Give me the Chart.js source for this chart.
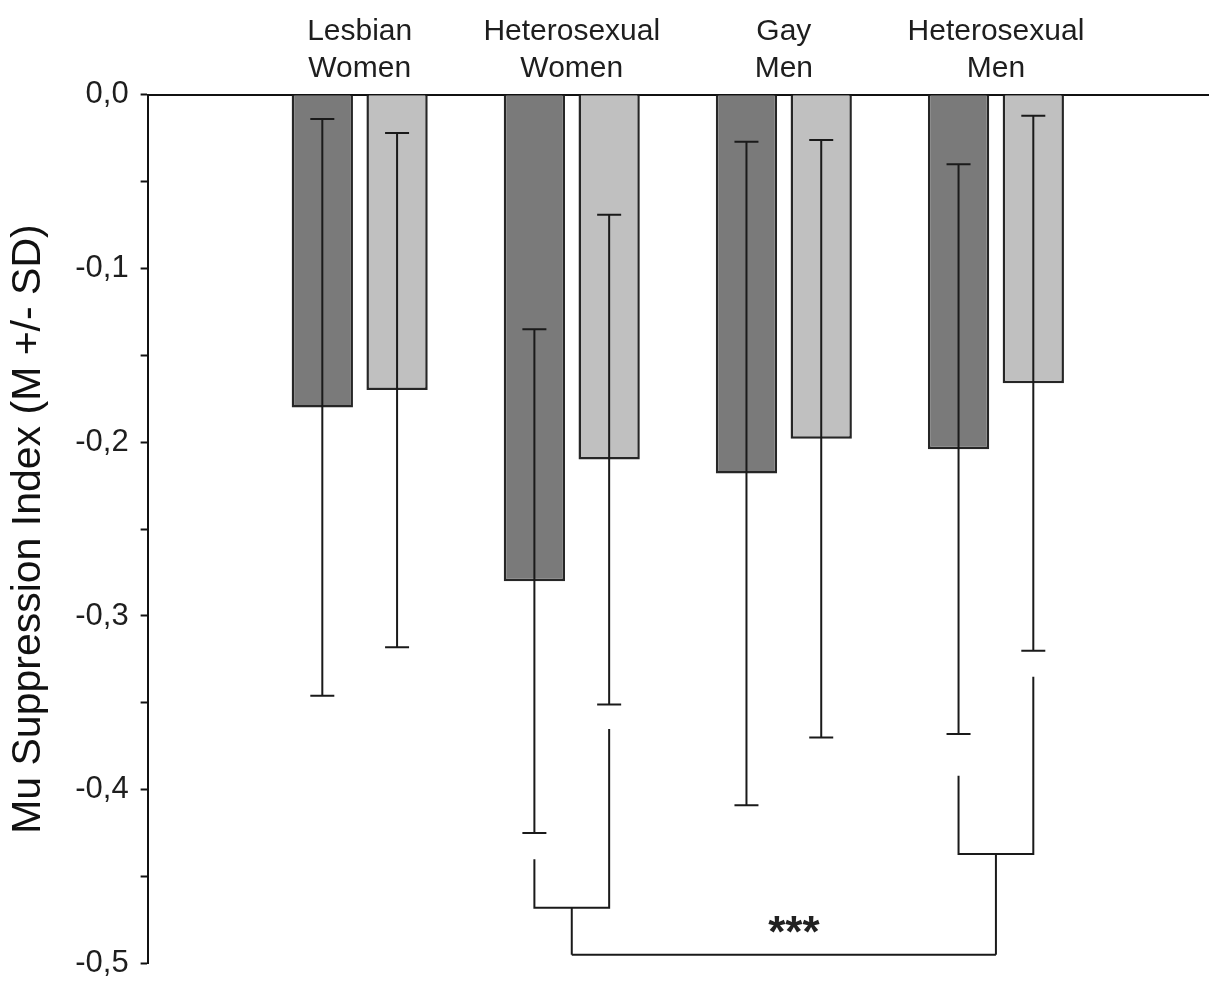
<!DOCTYPE html>
<html>
<head>
<meta charset="utf-8">
<script src="https://cdn.jsdelivr.net/npm/chart.js@4"></script>
<style>
  html, body { margin: 0; padding: 0; background: #fff; overflow: hidden; }
  #wrap { width: 1221px; height: 994px; position: relative; }
</style>
</head>
<body>
<div id="wrap"><canvas id="muChart"></canvas></div>
<script>
// grupos (etiquetas de arriba, en dos líneas)
const groupLabels = [['Lesbian', 'Women'], ['Heterosexual', 'Women'], ['Gay', 'Men'], ['Heterosexual', 'Men']];

// medias y desviaciones
const darkMeans = [-0.180, -0.280, -0.218, -0.204];
const darkSD = [0.166, 0.145, 0.191, 0.164];
const lightMeans = [-0.170, -0.210, -0.198, -0.166];
const lightSD = [0.148, 0.141, 0.172, 0.154];

// ticks del eje Y
const yTicks = [0, -0.1, -0.2, -0.3, -0.4, -0.5];

// corchetes de significación (índice de categoría, extremos en valores del eje Y)
const bracketGroups = [2, 4];
const bracketLeftTop = [-0.440, -0.392];
const bracketRightTop = [-0.365, -0.335];
const bracketLevel = [-0.468, -0.437];
const joinLevel = -0.495;
const sigLabel = '***';
const sigLevel = -0.478;

// categoría vacía al principio y al final para dejar el hueco de la izquierda
const labels = [''].concat(groupLabels, ['']);
const pad = arr => [null].concat(arr, [null]);

const errorBars = {
    id: 'errorBars',
    afterDatasetsDraw(chart) {
        const ctx = chart.ctx;
        const y = chart.scales.y;
        const sets = [[darkMeans, darkSD], [lightMeans, lightSD]];
        ctx.save();
        ctx.strokeStyle = '#1a1a1a';
        ctx.lineWidth = 2;
        sets.forEach((s, di) => {
            const meta = chart.getDatasetMeta(di);
            s[0].forEach((m, i) => {
                const bar = meta.data[i + 1];
                const top = y.getPixelForValue(m + s[1][i]);
                const bot = y.getPixelForValue(m - s[1][i]);
                ctx.beginPath();
                ctx.moveTo(bar.x, top); ctx.lineTo(bar.x, bot);
                ctx.moveTo(bar.x - 12, top); ctx.lineTo(bar.x + 12, top);
                ctx.moveTo(bar.x - 12, bot); ctx.lineTo(bar.x + 12, bot);
                ctx.stroke();
            });
        });

        // corchetes
        const mids = [];
        bracketGroups.forEach((g, k) => {
            const xl = chart.getDatasetMeta(0).data[g].x;
            const xr = chart.getDatasetMeta(1).data[g].x;
            const lvl = y.getPixelForValue(bracketLevel[k]);
            ctx.beginPath();
            ctx.moveTo(xl, y.getPixelForValue(bracketLeftTop[k]));
            ctx.lineTo(xl, lvl);
            ctx.lineTo(xr, lvl);
            ctx.lineTo(xr, y.getPixelForValue(bracketRightTop[k]));
            ctx.stroke();
            const xm = (xl + xr) / 2;
            mids.push(xm);
            ctx.beginPath();
            ctx.moveTo(xm, lvl);
            ctx.lineTo(xm, y.getPixelForValue(joinLevel));
            ctx.stroke();
        });
        const jy = y.getPixelForValue(joinLevel);
        ctx.beginPath();
        ctx.moveTo(mids[0], jy);
        ctx.lineTo(mids[1], jy);
        ctx.stroke();

        ctx.fillStyle = '#222';
        ctx.font = 'bold 44px "Liberation Sans", Arial, sans-serif';
        ctx.textAlign = 'center';
        ctx.textBaseline = 'middle';
        ctx.fillText(sigLabel, (mids[0] + mids[1]) / 2 + 10, y.getPixelForValue(sigLevel) + 10);
        ctx.restore();
    }
};

const ctx = document.getElementById('muChart').getContext('2d');
new Chart(ctx, {
    type: 'bar',
    data: {
        labels: labels,
        datasets: [{
            data: pad(darkMeans),
            backgroundColor: '#7a7a7a',
            borderColor: '#262626',
            borderWidth: 2.5
        }, {
            data: pad(lightMeans),
            backgroundColor: '#c0c0c0',
            borderColor: '#262626',
            borderWidth: 2.5
        }]
    },
    options: {
        responsive: true,
        maintainAspectRatio: false,
        animation: false,
        categoryPercentage: 0.705,
        barPercentage: 0.82,
        layout: { padding: { top: 13, right: 13, bottom: 0, left: 0 } },
        plugins: {
            legend: { display: false },
            tooltip: { enabled: false }
        },
        scales: {
            x: {
                position: 'top',
                offset: false,
                grid: { display: false },
                border: { display: true, color: '#111', width: 2 },
                ticks: {
                    color: '#1e1e1e',
                    font: { family: '"Liberation Sans", Arial, sans-serif', size: 30, lineHeight: 1.23 },
                    padding: 0,
                    maxRotation: 0,
                    autoSkip: false
                }
            },
            y: {
                min: -0.5,
                max: 0,
                grid: { drawOnChartArea: false, drawTicks: true, tickLength: 7, tickColor: '#111', tickWidth: 2 },
                border: { display: true, color: '#111', width: 2 },
                ticks: {
                    stepSize: 0.05,
                    color: '#1e1e1e',
                    padding: 12,
                    font: { family: '"Liberation Sans", Arial, sans-serif', size: 31 },
                    callback: function (value) {
                        const r = Math.round(value * 20);
                        if (r % 2 !== 0) return '';
                        const t = yTicks.find(v => Math.abs(v - value) < 1e-6);
                        return t === undefined ? '' : t.toFixed(1).replace('.', ',');
                    }
                },
                title: {
                    display: true,
                    text: 'Mu Suppression Index (M +/- SD)',
                    color: '#111',
                    font: { family: '"Liberation Sans", Arial, sans-serif', size: 41 },
                    padding: { top: 4, bottom: 10 }
                }
            }
        }
    },
    plugins: [errorBars]
});
</script>
</body>
</html>
